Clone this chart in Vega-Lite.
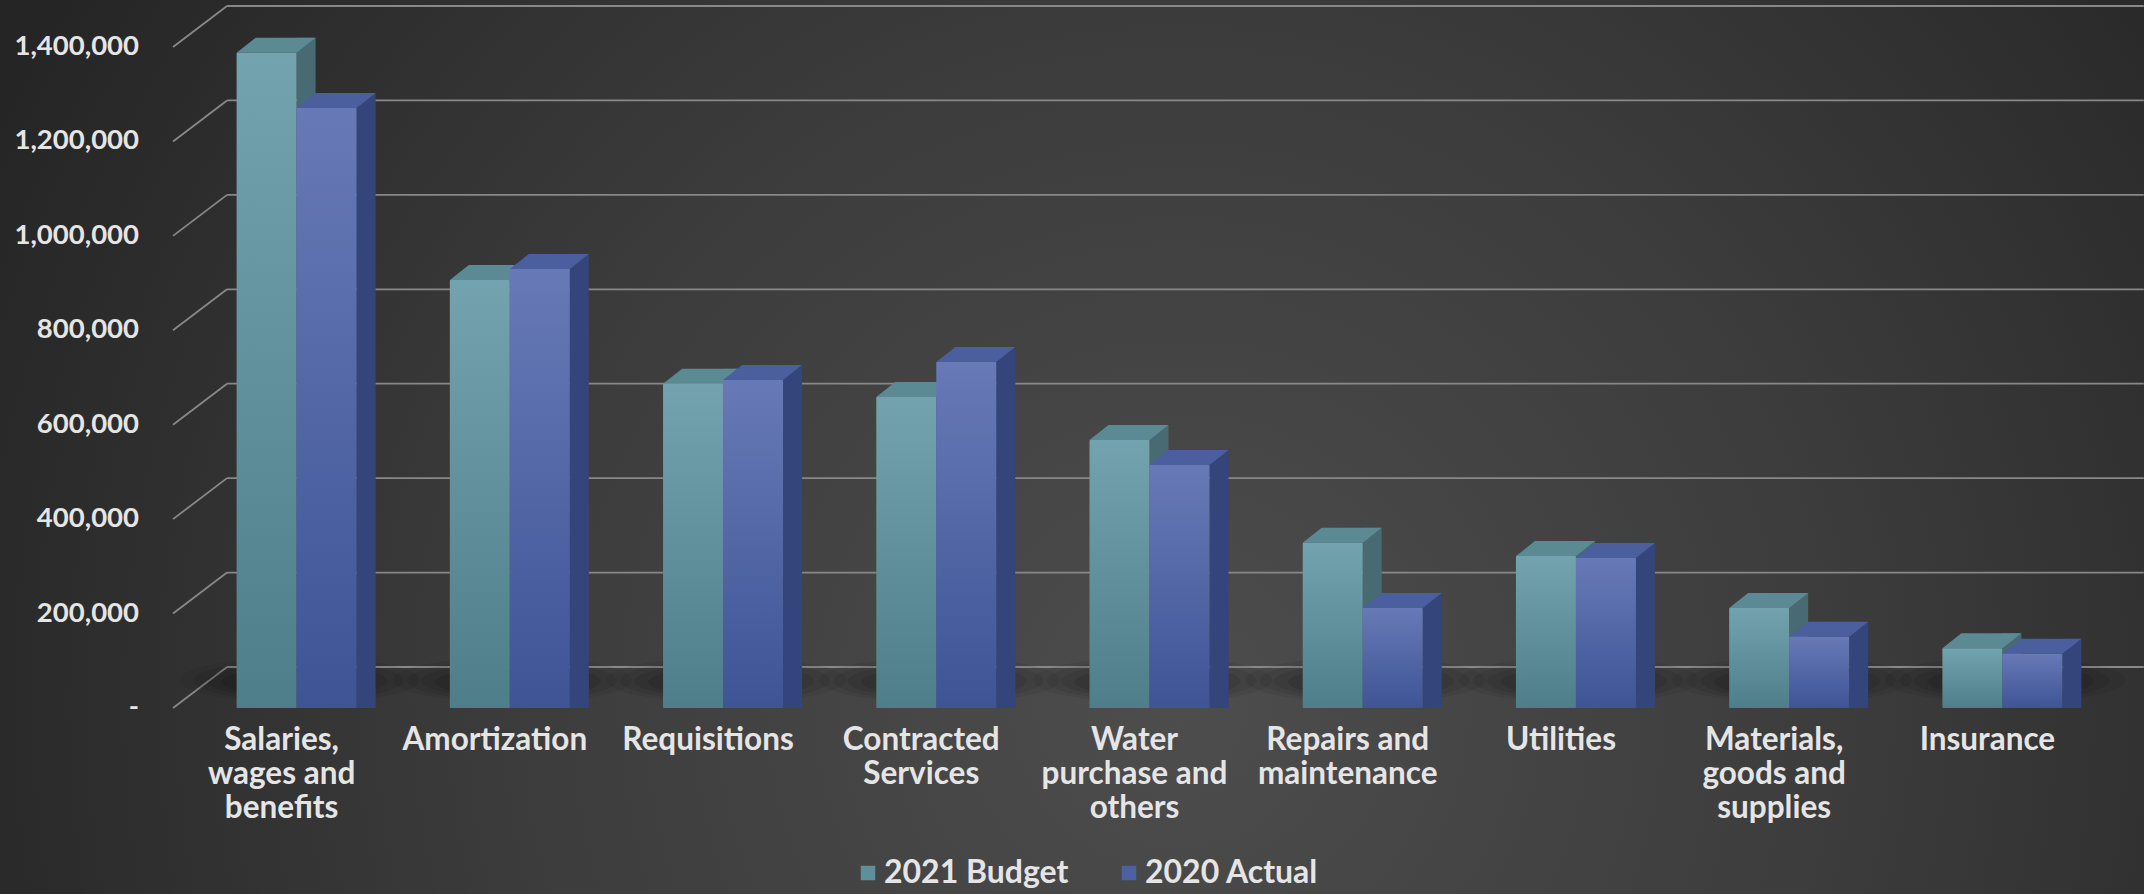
{
  "$schema": "https://vega.github.io/schema/vega-lite/v6.json",
  "width": 2144,
  "height": 894,
  "autosize": {"type": "none"},
  "padding": 0,
  "background": "#333333",
  "view": {
    "stroke": null,
    "fill": {
      "gradient": "radial",
      "x1": 0.55, "y1": 0.62, "r1": 0,
      "x2": 0.55, "y2": 0.62, "r2": 0.62,
      "stops": [
        {"offset": 0, "color": "#4d4d4d"},
        {"offset": 0.5, "color": "#3c3c3c"},
        {"offset": 1, "color": "#252525"}
      ]
    }
  },
  "config": {"font": "Lato"},
  "datasets": {
    "bars": [
      {"category": "Salaries, wages and benefits", "series": "2021 Budget", "value": 1356000},
      {"category": "Salaries, wages and benefits", "series": "2020 Actual", "value": 1239000},
      {"category": "Amortization", "series": "2021 Budget", "value": 875000},
      {"category": "Amortization", "series": "2020 Actual", "value": 898000},
      {"category": "Requisitions", "series": "2021 Budget", "value": 655000},
      {"category": "Requisitions", "series": "2020 Actual", "value": 663000},
      {"category": "Contracted Services", "series": "2021 Budget", "value": 627000},
      {"category": "Contracted Services", "series": "2020 Actual", "value": 701000},
      {"category": "Water purchase and others", "series": "2021 Budget", "value": 536000},
      {"category": "Water purchase and others", "series": "2020 Actual", "value": 483000},
      {"category": "Repairs and maintenance", "series": "2021 Budget", "value": 318000},
      {"category": "Repairs and maintenance", "series": "2020 Actual", "value": 180000},
      {"category": "Utilities", "series": "2021 Budget", "value": 290000},
      {"category": "Utilities", "series": "2020 Actual", "value": 286000},
      {"category": "Materials, goods and supplies", "series": "2021 Budget", "value": 180000},
      {"category": "Materials, goods and supplies", "series": "2020 Actual", "value": 119000},
      {"category": "Insurance", "series": "2021 Budget", "value": 95000},
      {"category": "Insurance", "series": "2020 Actual", "value": 83000}
    ],
    "ticks": [
      {"v": 0, "label": "-\u00a0\u00a0\u00a0\u00a0\u00a0\u00a0"},
      {"v": 200000, "label": "200,000"},
      {"v": 400000, "label": "400,000"},
      {"v": 600000, "label": "600,000"},
      {"v": 800000, "label": "800,000"},
      {"v": 1000000, "label": "1,000,000"},
      {"v": 1200000, "label": "1,200,000"},
      {"v": 1400000, "label": "1,400,000"}
    ],
    "labels": [
      {"category": "Salaries, wages and benefits", "label": "Salaries,\nwages and\nbenefits"},
      {"category": "Amortization", "label": "Amortization"},
      {"category": "Requisitions", "label": "Requisitions"},
      {"category": "Contracted Services", "label": "Contracted\nServices"},
      {"category": "Water purchase and others", "label": "Water\npurchase and\nothers"},
      {"category": "Repairs and maintenance", "label": "Repairs and\nmaintenance"},
      {"category": "Utilities", "label": "Utilities"},
      {"category": "Materials, goods and supplies", "label": "Materials,\ngoods and\nsupplies"},
      {"category": "Insurance", "label": "Insurance"}
    ]
  },
  "layer": [
    {
      "data": {"name": "ticks"},
      "mark": {"type": "rule", "color": "#888888", "strokeWidth": 1.8, "opacity": 1, "xOffset": -54.6, "x2Offset": 156.4, "yOffset": -41},
      "encoding": {
        "x": {
          "datum": "Salaries, wages and benefits",
          "type": "nominal",
          "title": null,
          "scale": {
            "domain": ["Salaries, wages and benefits", "Amortization", "Requisitions", "Contracted Services", "Water purchase and others", "Repairs and maintenance", "Utilities", "Materials, goods and supplies", "Insurance"],
            "range": [175, 2094],
            "paddingInner": 0,
            "paddingOuter": 0
          },
          "axis": null
        },
        "x2": {"datum": "Insurance"},
        "y": {
          "field": "v",
          "type": "quantitative",
          "title": null,
          "scale": {"domain": [0, 1400000], "range": [708, 47], "nice": false, "zero": true},
          "axis": null
        }
      }
    },
    {
      "data": {"name": "ticks"},
      "mark": {"type": "rule", "color": "#888888", "strokeWidth": 1.8, "opacity": 1, "xOffset": -108.6, "x2Offset": -54.6, "y2Offset": -41},
      "encoding": {
        "x": {"datum": "Salaries, wages and benefits", "type": "nominal", "title": null, "axis": null},
        "x2": {"datum": "Salaries, wages and benefits"},
        "y": {"field": "v", "type": "quantitative", "title": null, "axis": null},
        "y2": {"field": "v"}
      }
    },
    {
      "data": {"name": "ticks"},
      "mark": {"type": "text", "align": "right", "baseline": "middle", "font": "Lato", "fontWeight": "bold", "fontSize": 27.5, "color": "#e5e5e5", "xOffset": -142.6},
      "encoding": {
        "x": {"datum": "Salaries, wages and benefits", "type": "nominal", "title": null, "axis": null},
        "y": {"field": "v", "type": "quantitative", "title": null, "axis": null},
        "text": {"field": "label", "type": "nominal"}
      }
    },
    {
      "data": {"name": "labels"},
      "mark": {"type": "text", "align": "center", "baseline": "top", "font": "Lato", "fontWeight": "bold", "fontSize": 31.5, "lineHeight": 34, "lineBreak": "\n", "color": "#e5e5e5", "yOffset": 17},
      "encoding": {
        "x": {"field": "category", "type": "nominal", "sort": null, "title": null, "axis": null},
        "y": {"datum": 0, "type": "quantitative", "title": null, "axis": null},
        "text": {"field": "label", "type": "nominal"}
      }
    },
    {
      "data": {"name": "labels"},
      "mark": {"type": "point", "shape": "M-1,0A1,0.19 0 1,0 1,0A1,0.19 0 1,0 -1,0Z", "size": 57600, "filled": true, "strokeWidth": 0, "color": "#000000", "opacity": 0.06, "xOffset": 18, "yOffset": -28},
      "encoding": {
        "x": {"field": "category", "type": "nominal", "sort": null, "title": null, "axis": null},
        "y": {"datum": 0, "type": "quantitative", "title": null, "axis": null}
      }
    },
    {
      "data": {"name": "labels"},
      "mark": {"type": "point", "shape": "M-1,0A1,0.19 0 1,0 1,0A1,0.19 0 1,0 -1,0Z", "size": 44100, "filled": true, "strokeWidth": 0, "color": "#000000", "opacity": 0.07, "xOffset": 17, "yOffset": -27.5},
      "encoding": {
        "x": {"field": "category", "type": "nominal", "sort": null, "title": null, "axis": null},
        "y": {"datum": 0, "type": "quantitative", "title": null, "axis": null}
      }
    },
    {
      "data": {"name": "labels"},
      "mark": {"type": "point", "shape": "M-1,0A1,0.19 0 1,0 1,0A1,0.19 0 1,0 -1,0Z", "size": 32400, "filled": true, "strokeWidth": 0, "color": "#000000", "opacity": 0.08, "xOffset": 16, "yOffset": -27},
      "encoding": {
        "x": {"field": "category", "type": "nominal", "sort": null, "title": null, "axis": null},
        "y": {"datum": 0, "type": "quantitative", "title": null, "axis": null}
      }
    },
    {
      "data": {"name": "labels"},
      "mark": {"type": "point", "shape": "M-1,0A1,0.19 0 1,0 1,0A1,0.19 0 1,0 -1,0Z", "size": 22500, "filled": true, "strokeWidth": 0, "color": "#000000", "opacity": 0.09, "xOffset": 15, "yOffset": -26},
      "encoding": {
        "x": {"field": "category", "type": "nominal", "sort": null, "title": null, "axis": null},
        "y": {"datum": 0, "type": "quantitative", "title": null, "axis": null}
      }
    },
    {
      "data": {"name": "bars"},
      "mark": {"type": "bar", "width": 0, "opacity": 1, "yOffset": -15, "y2Offset": -15},
      "encoding": {
        "x": {"field": "category", "type": "nominal", "sort": null, "title": null, "axis": null},
        "y": {"field": "value", "type": "quantitative", "stack": null, "title": null, "axis": null},
        "y2": {"field": "value"},
        "color": {
          "field": "series",
          "type": "nominal",
          "scale": {"domain": ["2021 Budget", "2020 Actual"], "range": ["#5e8f9a", "#4c60a5"]},
          "legend": {
            "orient": "none", "legendX": 852, "legendY": 857, "direction": "horizontal",
            "title": null, "symbolType": "square", "symbolSize": 210, "symbolStrokeWidth": 0, "symbolOpacity": 1,
            "labelFont": "Lato", "labelFontWeight": "bold", "labelFontSize": 32,
            "labelColor": "#e5e5e5", "labelOffset": 0, "columnPadding": 44, "padding": 0, "labelLimit": 400
          }
        }
      }
    },
    {
      "data": {"name": "bars"},
      "transform": [{"filter": "datum.series === '2021 Budget'"}],
      "mark": {"type": "bar", "width": 19, "xOffset": 24.5, "yOffset": -30, "y2Offset": -30, "color": "#476a73", "opacity": 1},
      "encoding": {
        "x": {"field": "category", "type": "nominal", "sort": null, "title": null, "axis": null},
        "y": {"field": "value", "type": "quantitative", "stack": null, "title": null, "axis": null}
      }
    },
    {
      "data": {"name": "bars"},
      "transform": [{"filter": "datum.series === '2021 Budget'"}],
      "mark": {"type": "point", "shape": "M0,0L0,-0.3L0.38,-0.3Z", "size": 10000, "filled": true, "strokeWidth": 0, "color": "#476a73", "opacity": 1, "xOffset": 15, "yOffset": -15},
      "encoding": {
        "x": {"field": "category", "type": "nominal", "sort": null, "title": null, "axis": null},
        "y": {"datum": 0, "type": "quantitative", "title": null, "axis": null}
      }
    },
    {
      "data": {"name": "bars"},
      "transform": [{"filter": "datum.series === '2021 Budget'"}],
      "mark": {"type": "point", "shape": "M-0.6,0L0.6,0L0.98,-0.3L-0.22,-0.3Z", "size": 10000, "filled": true, "strokeWidth": 0, "color": "#5c8a94", "opacity": 1, "xOffset": -15, "yOffset": -15},
      "encoding": {
        "x": {"field": "category", "type": "nominal", "sort": null, "title": null, "axis": null},
        "y": {"field": "value", "type": "quantitative", "stack": null, "title": null, "axis": null}
      }
    },
    {
      "data": {"name": "bars"},
      "transform": [{"filter": "datum.series === '2021 Budget'"}],
      "mark": {
        "type": "bar", "width": 60, "xOffset": -15, "yOffset": -15, "y2Offset": -15, "cornerRadius": 1, "opacity": 1,
        "color": {"gradient": "linear", "x1": 0, "y1": 0, "x2": 0, "y2": 1,
          "stops": [{"offset": 0, "color": "#73a3ae"}, {"offset": 1, "color": "#4e7e8a"}]}
      },
      "encoding": {
        "x": {"field": "category", "type": "nominal", "sort": null, "title": null, "axis": null},
        "y": {"field": "value", "type": "quantitative", "stack": null, "title": null, "axis": null}
      }
    },
    {
      "data": {"name": "bars"},
      "transform": [{"filter": "datum.series === '2020 Actual'"}],
      "mark": {"type": "bar", "width": 19, "xOffset": 84.5, "yOffset": -30, "y2Offset": -30, "color": "#33457a", "opacity": 1},
      "encoding": {
        "x": {"field": "category", "type": "nominal", "sort": null, "title": null, "axis": null},
        "y": {"field": "value", "type": "quantitative", "stack": null, "title": null, "axis": null}
      }
    },
    {
      "data": {"name": "bars"},
      "transform": [{"filter": "datum.series === '2020 Actual'"}],
      "mark": {"type": "point", "shape": "M0,0L0,-0.3L0.38,-0.3Z", "size": 10000, "filled": true, "strokeWidth": 0, "color": "#33457a", "opacity": 1, "xOffset": 75, "yOffset": -15},
      "encoding": {
        "x": {"field": "category", "type": "nominal", "sort": null, "title": null, "axis": null},
        "y": {"datum": 0, "type": "quantitative", "title": null, "axis": null}
      }
    },
    {
      "data": {"name": "bars"},
      "transform": [{"filter": "datum.series === '2020 Actual'"}],
      "mark": {"type": "point", "shape": "M-0.6,0L0.6,0L0.98,-0.3L-0.22,-0.3Z", "size": 10000, "filled": true, "strokeWidth": 0, "color": "#4b5e9d", "opacity": 1, "xOffset": 45, "yOffset": -15},
      "encoding": {
        "x": {"field": "category", "type": "nominal", "sort": null, "title": null, "axis": null},
        "y": {"field": "value", "type": "quantitative", "stack": null, "title": null, "axis": null}
      }
    },
    {
      "data": {"name": "bars"},
      "transform": [{"filter": "datum.series === '2020 Actual'"}],
      "mark": {
        "type": "bar", "width": 60, "xOffset": 45, "yOffset": -15, "y2Offset": -15, "cornerRadius": 1, "opacity": 1,
        "color": {"gradient": "linear", "x1": 0, "y1": 0, "x2": 0, "y2": 1,
          "stops": [{"offset": 0, "color": "#6779b7"}, {"offset": 1, "color": "#3e5495"}]}
      },
      "encoding": {
        "x": {"field": "category", "type": "nominal", "sort": null, "title": null, "axis": null},
        "y": {"field": "value", "type": "quantitative", "stack": null, "title": null, "axis": null}
      }
    }
  ]
}
